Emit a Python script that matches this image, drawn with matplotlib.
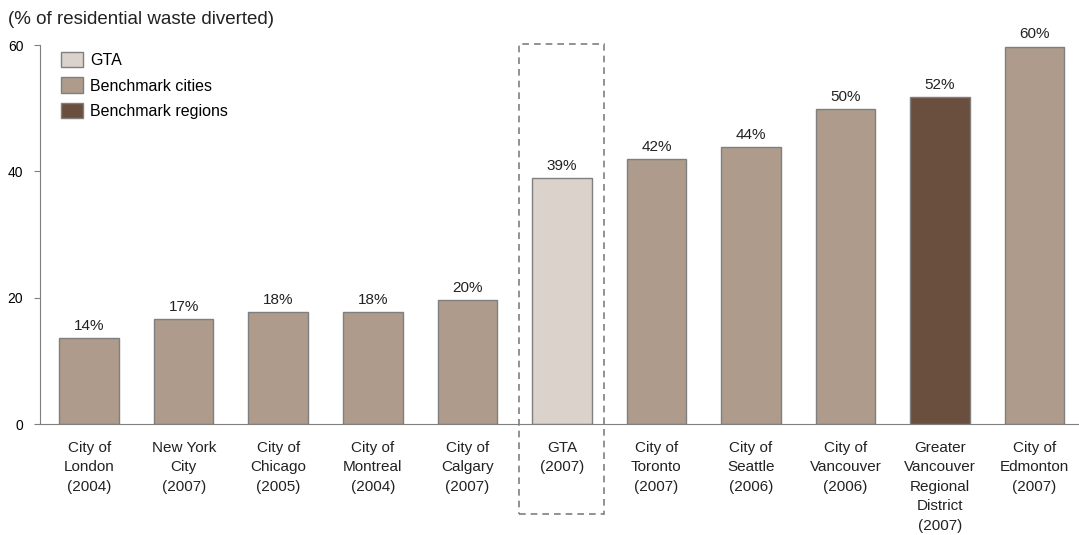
import matplotlib.pyplot as plt
from matplotlib.patches import Patch, Rectangle

plt.rcParams['font.family'] = ['Liberation Sans', 'DejaVu Sans']

cities = ["City of\nLondon\n(2004)", "New York\nCity\n(2007)", "City of\nChicago\n(2005)",
          "City of\nMontreal\n(2004)", "City of\nCalgary\n(2007)", "GTA\n(2007)",
          "City of\nToronto\n(2007)", "City of\nSeattle\n(2006)", "City of\nVancouver\n(2006)",
          "Greater\nVancouver\nRegional\nDistrict\n(2007)", "City of\nEdmonton\n(2007)"]
diverted = [13.6, 16.6, 17.7, 17.7, 19.6, 38.9, 41.9, 43.8, 49.8, 51.7, 59.7]
value_labels = ["14%", "17%", "18%", "18%", "20%", "39%", "42%", "44%", "50%", "52%", "60%"]
group = ["city", "city", "city", "city", "city", "gta", "city", "city", "city", "region", "city"]

colors = {"gta": "#dbd2cc", "city": "#ae9b8c", "region": "#6a4f3f"}
legend_names = {"gta": "GTA", "city": "Benchmark cities", "region": "Benchmark regions"}

fig = plt.figure(figsize=(10.79, 5.35), dpi=100)
ax = fig.add_axes([40 / 1079, 111 / 535, 1 - 40 / 1079, 379 / 535])

x = list(range(len(cities)))
ax.bar(x, diverted, width=0.63, color=[colors[g] for g in group],
       edgecolor="#7f7f7f", linewidth=1.0, zorder=2)

for xi, v, lab in zip(x, diverted, value_labels):
    ax.annotate(lab, (xi, v), xytext=(0, 4), textcoords="offset points",
                ha="center", va="bottom", fontsize=11, color="#222222")

ax.set_xlim(-0.52, 10.47)
ax.set_ylim(0, 60)
ax.set_yticks([0, 20, 40, 60])
ax.tick_params(axis="y", labelsize=10, length=4, color="#7f7f7f", pad=8)
ax.set_xticks(x)
ax.set_xticklabels(cities, fontsize=11, linespacing=1.5, color="#222222")
ax.tick_params(axis="x", length=0, pad=12)

for s in ["top", "right"]:
    ax.spines[s].set_visible(False)
ax.spines["left"].set_color("#7f7f7f")
ax.spines["bottom"].set_color("#7f7f7f")

# dashed highlight box around GTA
ax.add_patch(Rectangle((4.55, -14.2), 0.9, 74.4, fill=False, linestyle=(0, (4, 3)),
                       edgecolor="#7f7f7f", linewidth=1.2, clip_on=False, zorder=3))

handles = [Patch(facecolor=colors[k], edgecolor="#7f7f7f", label=legend_names[k])
           for k in ["gta", "city", "region"]]
ax.legend(handles=handles, loc="upper left", bbox_to_anchor=(0.006, 1.02), frameon=False,
          fontsize=11.5, handlelength=1.4, handleheight=1.1, handletextpad=0.45,
          labelspacing=0.6)

fig.text(8 / 1079, 1 - 19 / 535, "(% of residential waste diverted)", fontsize=13.5,
         va="center", ha="left", color="#222222")

fig.savefig("out.png", dpi=100)
